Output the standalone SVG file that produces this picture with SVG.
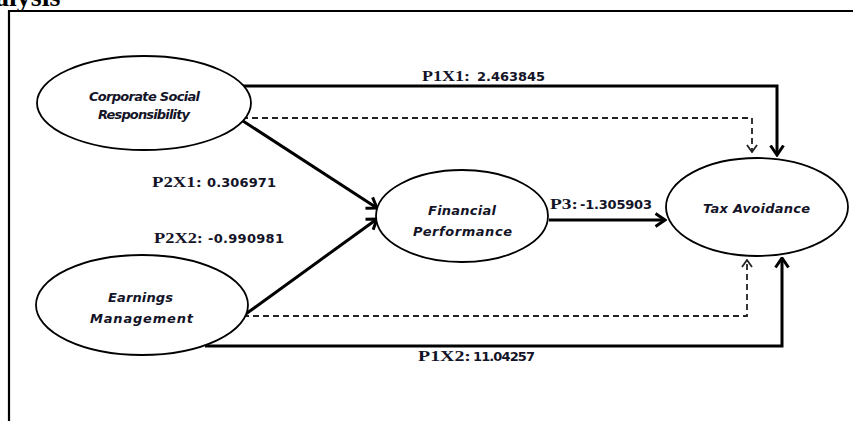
<svg xmlns="http://www.w3.org/2000/svg" width="853" height="421" viewBox="0 0 853 421">
<style>
.frame{stroke:#000;stroke-width:2.2;fill:none}
.node{fill:#fff;stroke:#000;stroke-width:1.8}
.nt{font-family:"DejaVu Sans",Verdana,sans-serif;font-weight:bold;font-style:italic;font-size:13px;fill:#141428}
.solid{fill:none;stroke:#000;stroke-width:3}
.dash{fill:none;stroke:#222;stroke-width:1.8;stroke-dasharray:6 4}
.ser{font-family:"Liberation Serif","Times New Roman",serif;font-size:15px;font-weight:bold;fill:#141428}
.num{font-family:"DejaVu Sans",Verdana,sans-serif;font-size:13px;font-weight:bold;fill:#141428}
.head{font-family:"Liberation Serif","Times New Roman",serif;font-weight:bold;font-size:28px;fill:#000}
</style>
<defs>
<marker id="ah" viewBox="0 0 12 16" refX="10.5" refY="8" markerWidth="12" markerHeight="16" orient="auto" markerUnits="userSpaceOnUse">
<path d="M1,1.5 L10.5,8 L1,14.5" fill="none" stroke="#000" stroke-width="3"/>
</marker>
<marker id="ahd" viewBox="0 0 9 12" refX="8" refY="6" markerWidth="9" markerHeight="12" orient="auto" markerUnits="userSpaceOnUse">
<path d="M1,1 L8,6 L1,11" fill="none" stroke="#222" stroke-width="1.8" stroke-dasharray="none"/>
</marker>
</defs>
<text class="head" x="-5" y="6">alysis</text>
<path class="frame" d="M853,11 H9 V421"/>
<g id="connectors">
<path class="solid" d="M240,86 H777 V155" marker-end="url(#ah)"/>
<path class="dash" d="M242,118 H752 V152" marker-end="url(#ahd)"/>
<path class="solid" d="M243,121 L377,208" marker-end="url(#ah)"/>
<path class="solid" d="M243,316 L377,219" marker-end="url(#ah)"/>
<path class="solid" d="M549,220 H665" marker-end="url(#ah)"/>
<path class="dash" d="M243,316 H747 V260" marker-end="url(#ahd)"/>
<path class="solid" d="M205,346 H782 V258" marker-end="url(#ah)"/>
<text class="ser" x="422" y="81" textLength="48" lengthAdjust="spacingAndGlyphs">P1X1:</text>
<text class="num" x="477" y="81" textLength="68">2.463845</text>
<text class="ser" x="152" y="187" textLength="50" lengthAdjust="spacingAndGlyphs">P2X1:</text>
<text class="num" x="207" y="187" textLength="69">0.306971</text>
<text class="ser" x="154" y="243" textLength="49" lengthAdjust="spacingAndGlyphs">P2X2:</text>
<text class="num" x="208" y="243" textLength="76">-0.990981</text>
<text class="ser" x="550" y="209" textLength="28" lengthAdjust="spacingAndGlyphs">P3:</text>
<text class="num" x="580" y="209" textLength="72">-1.305903</text>
<text class="ser" x="418" y="361" textLength="53" lengthAdjust="spacingAndGlyphs">P1X2:</text>
<text class="num" x="473" y="361" textLength="62">11.04257</text>
</g>
<g id="csr">
<ellipse class="node" cx="144" cy="103" rx="107" ry="47"/>
<text class="nt" x="89" y="101" textLength="111">Corporate Social</text>
<text class="nt" x="98" y="119" textLength="92">Responsibility</text>
</g>
<g id="em">
<ellipse class="node" cx="142" cy="305" rx="106" ry="50"/>
<text class="nt" x="108" y="302" textLength="65">Earnings</text>
<text class="nt" x="90" y="323" textLength="103">Management</text>
</g>
<g id="fp">
<ellipse class="node" cx="462" cy="216" rx="86" ry="46"/>
<text class="nt" x="428" y="215" textLength="68">Financial</text>
<text class="nt" x="413" y="236" textLength="99">Performance</text>
</g>
<g id="ta">
<ellipse class="node" cx="757" cy="207" rx="91" ry="49"/>
<text class="nt" x="703" y="213" textLength="107">Tax Avoidance</text>
</g>
</svg>
